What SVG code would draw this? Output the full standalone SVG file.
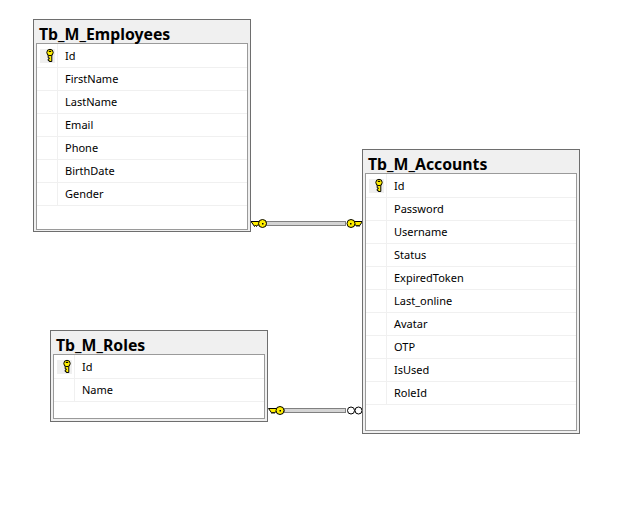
<svg xmlns="http://www.w3.org/2000/svg" width="643" height="506" viewBox="0 0 643 506">
<style>
text{font-family:"Noto Sans","Open Sans","Liberation Sans",sans-serif;fill:#000}
.t{font-size:15.8px;font-weight:700}
.r{font-size:11px}
.o{fill:#f0f0f0;stroke:#6e6e6e;stroke-width:1}
.i{fill:#fff;stroke:#9a9a9a;stroke-width:1}
.g{stroke:#f0f0f0;stroke-width:1;fill:none}
.k{fill:#ffee00;stroke:#000;stroke-width:1}
.m{fill:#efefef}
.b{fill:#d4d4d4;stroke:#808080;stroke-width:1}
.inf{fill:#fff;stroke:#000;stroke-width:1}
</style>
<defs>
<g id="key">
<path d="M-1.8 1H1.8V7.500H-0.800V6.500H-1.800V5H-0.800V3.800H-1.800Z" class="k"/>
<circle cx="0" cy="-1.500" r="3.200" class="k"/>
<rect x="-1.200" y="-3.200" width="2.400" height="1.200" fill="#000"/>
</g>
<g id="linkkey">
<path d="M-11.500 -2H-3V1.500H-5L-6 3L-7 1.500L-8 3L-9 1.500Z" class="k"/>
<circle cx="0" cy="0" r="4" class="k"/>
<rect x="-0.500" y="-0.500" width="1.500" height="1.500" fill="#000"/>
</g>
</defs>
<g id="connectors">
<g id="emp-acc">
<rect x="266.500" y="221.500" width="79" height="4" class="b"/>
<use href="#linkkey" transform="translate(262.500 223.500)"/>
<use href="#linkkey" transform="translate(351 223.500) scale(-1 1)"/>
</g>
<g id="rol-acc">
<rect x="284.500" y="408.500" width="61" height="4" class="b"/>
<use href="#linkkey" transform="translate(280 410.500)"/>
<circle cx="351" cy="410.500" r="3.500" class="inf"/><circle cx="358.500" cy="410.500" r="3.500" class="inf"/>
</g>
</g>
<g id="Tb_M_Employees">
<rect x="33.500" y="19.500" width="217" height="212" class="o"/>
<rect x="36.500" y="43.500" width="211" height="186" class="i"/>
<path d="M37 67.500H247M37 90.500H247M37 113.500H247M37 136.500H247M37 159.500H247M37 182.500H247M37 205.500H247M57.500 44V205" class="g"/>
<rect x="40" y="49" width="15" height="14" class="m"/>
<use href="#key" transform="translate(50 54)"/>
<text x="39" y="40" class="t">Tb_M_Employees</text>
<text x="65" y="60" class="r">Id</text>
<text x="65" y="83" class="r">FirstName</text>
<text x="65" y="106" class="r">LastName</text>
<text x="65" y="129" class="r">Email</text>
<text x="65" y="152" class="r">Phone</text>
<text x="65" y="175" class="r">BirthDate</text>
<text x="65" y="198" class="r">Gender</text>
</g>
<g id="Tb_M_Accounts">
<rect x="362.500" y="149.500" width="217" height="284" class="o"/>
<rect x="365.500" y="173.500" width="211" height="257" class="i"/>
<path d="M366 197.500H576M366 220.500H576M366 243.500H576M366 266.500H576M366 289.500H576M366 312.500H576M366 335.500H576M366 358.500H576M366 381.500H576M366 404.500H576M386.500 174V404" class="g"/>
<rect x="369" y="179" width="15" height="14" class="m"/>
<use href="#key" transform="translate(379 184)"/>
<text x="368" y="170" class="t">Tb_M_Accounts</text>
<text x="394" y="190" class="r">Id</text>
<text x="394" y="213" class="r">Password</text>
<text x="394" y="236" class="r">Username</text>
<text x="394" y="259" class="r">Status</text>
<text x="394" y="282" class="r">ExpiredToken</text>
<text x="394" y="305" class="r">Last_online</text>
<text x="394" y="328" class="r">Avatar</text>
<text x="394" y="351" class="r">OTP</text>
<text x="394" y="374" class="r">IsUsed</text>
<text x="394" y="397" class="r">RoleId</text>
</g>
<g id="Tb_M_Roles">
<rect x="50.500" y="330.500" width="217" height="91" class="o"/>
<rect x="53.500" y="354.500" width="211" height="64" class="i"/>
<path d="M54 378.500H264M54 401.500H264M74.500 355V401" class="g"/>
<rect x="57" y="360" width="15" height="14" class="m"/>
<use href="#key" transform="translate(67 365)"/>
<text x="56" y="351" class="t">Tb_M_Roles</text>
<text x="82" y="371" class="r">Id</text>
<text x="82" y="394" class="r">Name</text>
</g>
</svg>
